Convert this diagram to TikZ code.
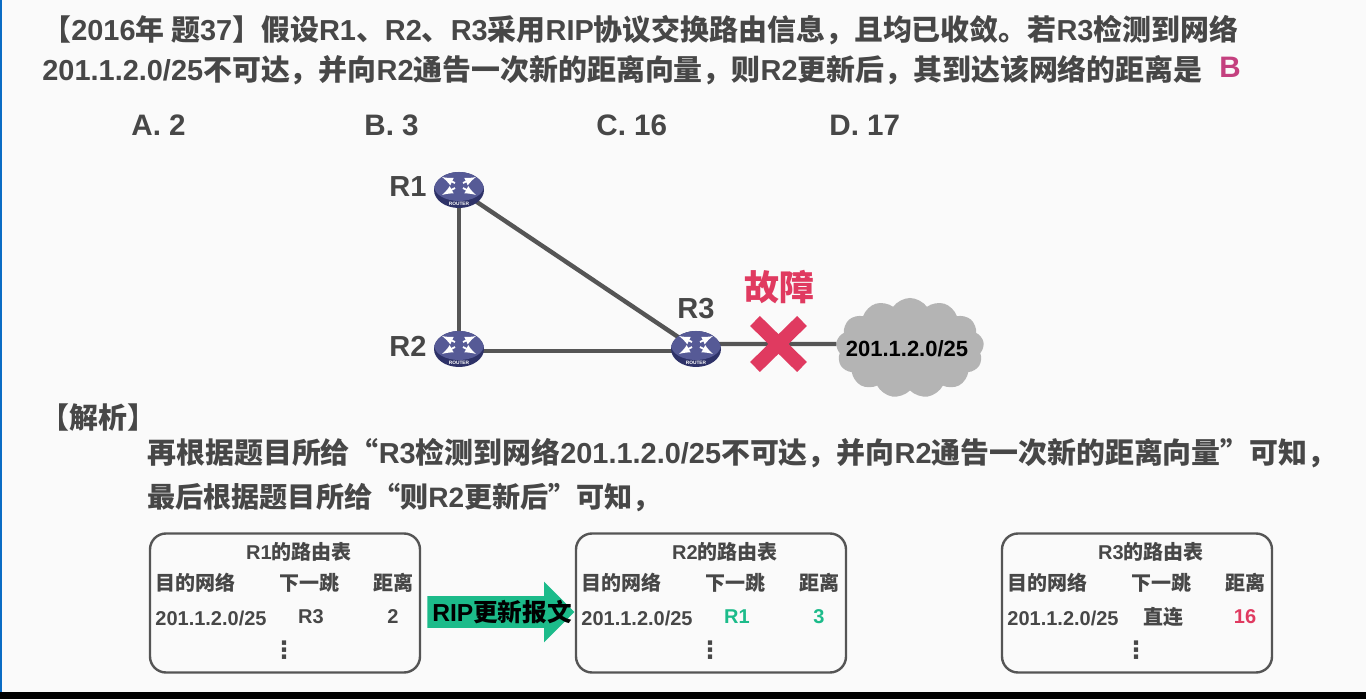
\documentclass[tikz,border=0pt]{standalone}
\usepackage{fontspec}
\setmainfont{Liberation Sans}
\newfontfamily\zhfont{Noto Sans CJK SC}
\newfontfamily\dotfont{DejaVu Sans}
\newcommand{\zh}[1]{{\zhfont #1}}
\usetikzlibrary{shapes.geometric,shapes.symbols,shapes.arrows,positioning}
\definecolor{txtgray}{HTML}{474747}
\definecolor{linegray}{HTML}{555555}
\definecolor{cloudgray}{HTML}{B4B4B4}
\definecolor{faultred}{HTML}{E03A60}
\definecolor{updgreen}{HTML}{1CBB8A}
\definecolor{ansrose}{HTML}{C4407F}
\definecolor{routertop}{HTML}{565A96}
\definecolor{routerside}{HTML}{2E3268}
\definecolor{edgeblue}{HTML}{0A6CC4}
\tikzstyle{txt} = [font=\bfseries, text=txtgray, inner sep=0pt, anchor=west]
\tikzstyle{opt} = [txt, font=\bfseries\fontsize{14.8}{16}\selectfont]
\tikzstyle{head} = [txt, font=\bfseries\fontsize{14.46}{17}\selectfont]
\tikzstyle{rname} = [txt, anchor=center, font=\bfseries\fontsize{14.5}{16}\selectfont]
\tikzstyle{cell} = [txt, anchor=center, font=\bfseries\fontsize{10}{12}\selectfont]
\tikzstyle{link} = [draw=linegray, line width=2.2pt]
\tikzstyle{tablebox} = [rectangle, rounded corners=8pt, draw=linegray, line width=1.2pt, minimum width=135pt, minimum height=69.5pt, inner sep=0pt]
\tikzstyle{router} = [ellipse, draw=none, fill=routerside, minimum width=25pt, minimum height=18pt, inner sep=0pt,
  path picture={
    \begin{scope}[shift={(path picture bounding box.center)}]
      \fill[routertop] (0,-4) ellipse (25 and 15);
      \draw[white, line width=0.9pt, -latex] (-4,-7) -- (-17,-13);
      \draw[white, line width=0.9pt, -latex] (4,-7) -- (17,-13);
      \draw[white, line width=0.9pt, -latex] (-4,-2) -- (-17,5);
      \draw[white, line width=0.9pt, -latex] (4,-2) -- (17,5);
      \node[text=white, font=\bfseries\fontsize{2.4}{3}\selectfont, inner sep=0pt] at (0,14) {ROUTER};
    \end{scope}
  }]
\newcommand{\routetable}[6]{
  \node (#1tab) [tablebox] at ({#2+135},603) {};
  \node (#1title) [cell] at ({#2+149},552) {#1\zh{的路由表}};
  \node (#1dest) [cell] at ({#2+45},583) {\zh{目的网络}};
  \node (#1hop) [cell] at ({#2+159},583) {\zh{下一跳}};
  \node (#1dist) [cell] at ({#2+243},583) {\zh{距离}};
  \node (#1net) [cell] at ({#2+61},618) {201.1.2.0/25};
  \node (#1next) [cell, #5] at ({#2+161},617) {#3};
  \node (#1val) [cell, #6] at ({#2+243},617) {#4};
  \node (#1dots) [cell, font=\dotfont\bfseries\fontsize{12}{14}\selectfont] at ({#2+134},650) {⋮};
}
\begin{document}
\begin{tikzpicture}[x=0.5pt,y=-0.5pt]
\useasboundingbox (0,0) rectangle (1366,699);
\fill[white!98!black] (0,0) rectangle (1366,699);
\fill[edgeblue] (0,0) rectangle (2,692);
\fill[black] (0,692) rectangle (1366,699);

\node (q1) [head] at (42,30) {\zh{【}2016\zh{年 题}37\zh{】假设}R1\zh{、}R2\zh{、}R3\zh{采用}RIP\zh{协议交换路由信息，且均已收敛。若}R3\zh{检测到网络}};
\node (q2) [head] at (42,70) {201.1.2.0/25\zh{不可达，并向}R2\zh{通告一次新的距离向量，则}R2\zh{更新后，其到达该网络的距离是}};
\node (ans) [opt, text=ansrose, anchor=center] at (1230,67) {B};
\node (optA) [opt] at (131,125) {A. 2};
\node (optB) [opt] at (364,125) {B. 3};
\node (optC) [opt] at (596,125) {C. 16};
\node (optD) [opt] at (829,125) {D. 17};

\node (cloud) [cloud, cloud puffs=13, cloud puff arc=110, aspect=1.5, fill=cloudgray, draw=none, minimum width=74pt, minimum height=50pt, inner sep=0pt] at (910,348) {};
\node (net) [inner sep=0pt, font=\bfseries\fontsize{11}{13}\selectfont, text=black] at (907,349) {201.1.2.0/25};

\draw[link] (459,190) coordinate (c1) -- (459,349) coordinate (c2);
\draw[link] (c1) -- (696,349) coordinate (c3);
\draw[link] ([yshift=-1pt]c2) -- ([yshift=-1pt]c3);
\draw[link] ([yshift=2.5pt]c3) -- ([yshift=2pt]cloud.west);

\node (R1) [router] at (c1) {};
\node (R2) [router] at (c2) {};
\node (R3) [router] at (c3) {};
\node (R1lab) [rname] at (408,187) {R1};
\node (R2lab) [rname] at (408,346) {R2};
\node (R3lab) [rname] at (696,309) {R3};

\coordinate (x1) at (755,321);
\coordinate (x2) at (802,367);
\coordinate (x3) at (802,321);
\coordinate (x4) at (755,367);
\draw[faultred, line width=7pt] (x1) -- (x2);
\draw[faultred, line width=7pt] (x3) -- (x4);
\node (fault) [inner sep=0pt, text=faultred, font=\bfseries\fontsize{17.5}{19}\selectfont] at (779,287) {\zh{故障}};

\node (jx) [head] at (40,418) {\zh{【解析】}};
\node (l1) [head] at (147,453) {\zh{再根据题目所给“}R3\zh{检测到网络}201.1.2.0/25\zh{不可达，并向}R2\zh{通告一次新的距离向量”可知，}};
\node (l2) [head, font=\bfseries\fontsize{14.05}{17}\selectfont] at (147,497) {\zh{最后根据题目所给“则}R2\zh{更新后”可知，}};

\routetable{R1}{150}{R3}{2}{}{}
\routetable{R2}{576}{R1}{3}{text=updgreen}{text=updgreen}
\routetable{R3}{1002}{\zh{直连}}{16}{}{text=faultred}
\node (upd) [single arrow, draw=none, fill=updgreen, inner sep=0pt, anchor=tip, minimum height=73.5pt, minimum width=30pt, single arrow head extend=7.2pt, single arrow head indent=0pt] at (575,612) {\rule{0pt}{15.5pt}};
\node (updtxt) [inner sep=0pt, text=black, font=\bfseries\fontsize{12.3}{14}\selectfont] at (502,612) {RIP\zh{更新报文}};
\end{tikzpicture}
\end{document}
